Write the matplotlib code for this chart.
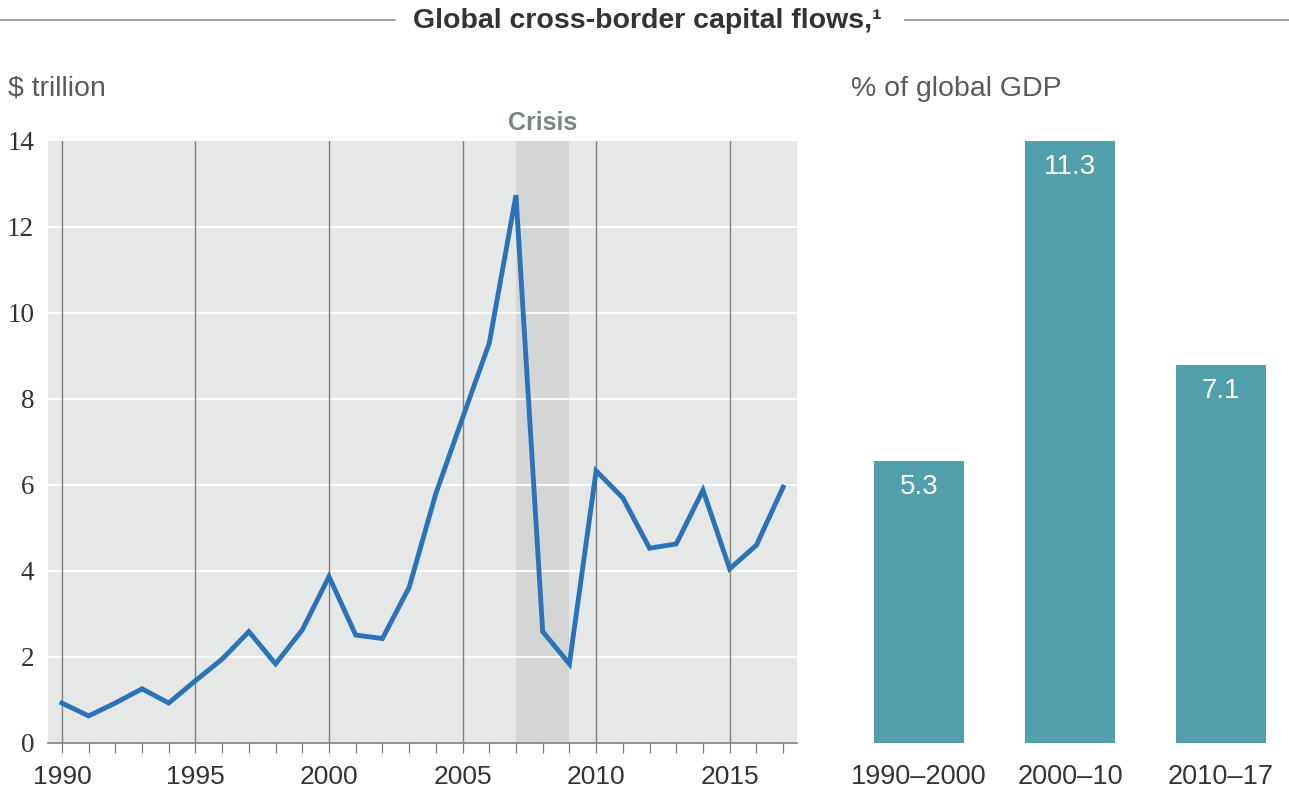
import matplotlib.pyplot as plt
from matplotlib.lines import Line2D

# global capital flows, $ trillion
years = [1990, 1991, 1992, 1993, 1994, 1995, 1996, 1997, 1998, 1999,
         2000, 2001, 2002, 2003, 2004, 2005, 2006, 2007, 2008, 2009,
         2010, 2011, 2012, 2013, 2014, 2015, 2016, 2017]
flows = [0.93, 0.63, 0.93, 1.26, 0.93, 1.45, 1.95, 2.59, 1.84, 2.63,
         3.87, 2.51, 2.43, 3.62, 5.80, 7.56, 9.30, 12.74, 2.59, 1.84,
         6.33, 5.70, 4.53, 4.63, 5.88, 4.05, 4.60, 5.95]
crisis = (2007, 2009)
year_labels = [1990, 1995, 2000, 2005, 2010, 2015]
y_ticks = [0, 2, 4, 6, 8, 10, 12, 14]

# average flows as share of GDP
periods = ['1990\u20132000', '2000\u201310', '2010\u201317']
gdp_share = [5.3, 11.3, 7.1]

SANS = 'Liberation Sans'
SERIF = 'Liberation Serif'
DARK = '#333333'
MID = '#5a5a5a'
BG = '#e6e7e7'
LINE_C = '#2b73b9'
BAR_C = '#4f9fac'

plt.rcParams['font.family'] = SANS

W, H = 1289, 796
fig = plt.figure(figsize=(W / 100, H / 100), dpi=100)

def box(x0, x1, ytop, ybot):
    return [x0 / W, 1 - ybot / H, (x1 - x0) / W, (ybot - ytop) / H]

# ---- left panel: line chart ----
ax = fig.add_axes(box(48, 797, 141, 743))
ax.set_facecolor(BG)
ax.set_xlim(1989.48, 2017.52)
ax.set_ylim(0, 14)

ax.axvspan(crisis[0], crisis[1], color='#d4d5d5', lw=0, zorder=0.5)
for yv in y_ticks[1:-1]:
    ax.axhline(yv, color='white', lw=1.3, zorder=1)
for xv in year_labels:
    ax.axvline(xv, color='#7f7f7f', lw=1.0, zorder=1.5)

ax.plot(years, flows, color=LINE_C, lw=3.5, solid_joinstyle='miter', zorder=3)

ax.text(sum(crisis) / 2, 14.15, 'Crisis', ha='center', va='bottom',
        fontsize=18, fontweight='bold', color='#7a8582')

for s in ['top', 'left', 'right']:
    ax.spines[s].set_visible(False)
ax.spines['bottom'].set_color('#7f7f7f')
ax.spines['bottom'].set_linewidth(1.2)

ax.set_xticks(year_labels)
ax.set_xticks(years, minor=True)
ax.tick_params(axis='x', which='both', direction='out', length=7.5,
               width=0.9, color='#7f7f7f', labelsize=19,
               labelcolor=DARK, pad=8)
ax.set_yticks(y_ticks)
ax.tick_params(axis='y', length=0, pad=10, labelsize=19.5, labelcolor=DARK)
for lab in ax.get_yticklabels():
    lab.set_fontfamily(SERIF)

# ---- right panel: bars ----
ax2 = fig.add_axes(box(844, 1289, 141, 743))
ax2.set_xlim(-0.497, 2.45)
ax2.set_ylim(0, 11.3)
ax2.bar(range(len(periods)), gdp_share, width=0.6, color=BAR_C)
for i, v in enumerate(gdp_share):
    ax2.annotate(f'{v}', (i, v), xytext=(0, -9.5), textcoords='offset points',
                 ha='center', va='top', color='white', fontsize=20)
for s in ax2.spines.values():
    s.set_visible(False)
ax2.set_yticks([])
ax2.set_xticks(range(len(periods)))
ax2.set_xticklabels(periods)
ax2.tick_params(axis='x', length=0, pad=15, labelsize=19.5, labelcolor=DARK)

# ---- header and unit labels ----
fig.text(647 / W, 1 - 21.5 / H, 'Global cross-border capital flows,\u00b9',
         ha='center', va='center', fontsize=20.5, fontweight='bold', color=DARK)
fig.add_artist(Line2D([0, 395 / W], [1 - 20 / H] * 2, color='#999999', lw=1.3))
fig.add_artist(Line2D([905 / W, 1], [1 - 20 / H] * 2, color='#999999', lw=1.3))

fig.text(8 / W, 1 - 89 / H, '$ trillion', ha='left', va='center',
         fontsize=20.5, color=MID)
fig.text(851 / W, 1 - 89 / H, '% of global GDP', ha='left', va='center',
         fontsize=20.5, color=MID)

fig.savefig('out.png', dpi=100)
